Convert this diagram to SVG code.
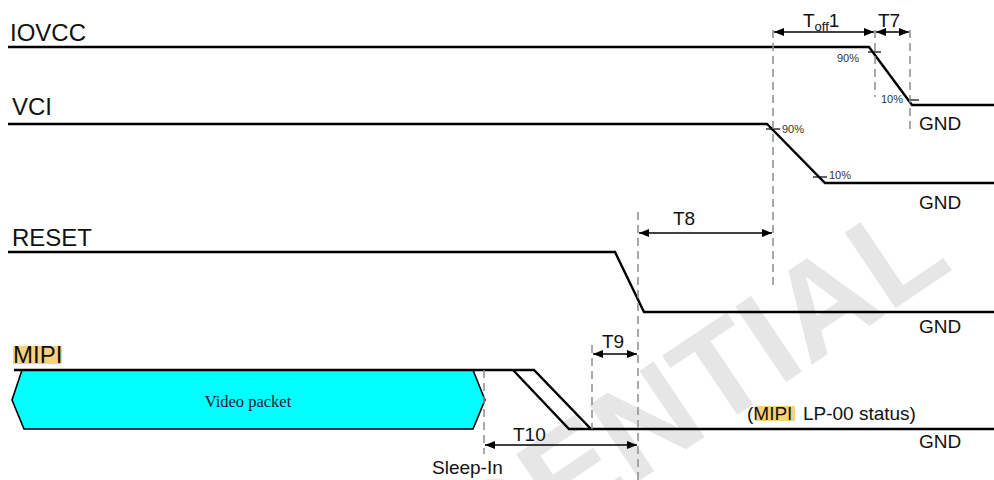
<svg xmlns="http://www.w3.org/2000/svg" width="994" height="480" viewBox="0 0 994 480">
<defs>
<style>
.sig{fill:none;stroke:#000;stroke-width:2.4;stroke-linejoin:miter}
.tick{stroke:#000;stroke-width:1.2}
.dash{stroke:#8c8c8c;stroke-width:1.5;stroke-dasharray:8 5;fill:none}
.dim{stroke:#000;stroke-width:1.4;marker-start:url(#ah);marker-end:url(#ah)}
.lbl{font-family:"Liberation Sans",Arial,sans-serif;font-size:24px;fill:#111}
.t{font-family:"Liberation Sans",Arial,sans-serif;font-size:19px;fill:#111}
.pct{font-family:"Liberation Sans",Arial,sans-serif;font-size:11px;fill:#333}
.hl{fill:#f8d27a}
.wm{font-family:"Liberation Sans",Arial,sans-serif;font-weight:bold;font-size:132px;fill:#e6e6e6}
</style>
<marker id="ah" viewBox="0 0 10 8" refX="10" refY="4" markerWidth="11" markerHeight="8" markerUnits="userSpaceOnUse" orient="auto-start-reverse">
<path d="M0,0 L10,4 L0,8 z" fill="#000"/>
</marker>
</defs>
<rect width="994" height="480" fill="#fff"/>
<text class="wm" transform="translate(955,268) rotate(-34)" text-anchor="end">CONFIDENTIAL</text>

<g id="iovcc">
<text class="lbl" x="10" y="41">IOVCC</text>
<polyline class="sig" points="8,47 869,47 912,105 994,105"/>
<line class="tick" x1="868" y1="52" x2="881" y2="52"/>
<text class="pct" x="859" y="62" text-anchor="end">90%</text>
<line class="tick" x1="907" y1="100" x2="919" y2="100"/>
<text class="pct" x="903" y="103" text-anchor="end">10%</text>
<text class="t" x="919" y="130">GND</text>
</g>

<g id="vci">
<text class="lbl" x="12" y="115">VCI</text>
<polyline class="sig" points="8,124 767,124 825,183 994,183"/>
<line class="tick" x1="766" y1="129" x2="780" y2="129"/>
<text class="pct" x="782" y="133">90%</text>
<line class="tick" x1="813" y1="177" x2="827" y2="177"/>
<text class="pct" x="829" y="179">10%</text>
<text class="t" x="919" y="209">GND</text>
</g>

<g id="reset">
<text class="lbl" x="12" y="246">RESET</text>
<polyline class="sig" points="8,252 615,252 644,312 994,312"/>
<text class="t" x="919" y="333">GND</text>
</g>

<g id="mipi">
<rect class="hl" x="13" y="346" width="49" height="18"/>
<text class="lbl" x="13" y="363">MIPI</text>
<polygon points="22,370 473,370 485,400 473,429 24,429 12,400" fill="#00ffff" stroke="#000" stroke-width="1.6"/>
<text x="248" y="407" text-anchor="middle" font-family="'Liberation Serif','Times New Roman',serif" font-size="16.5" fill="#1a1a2a">Video packet</text>
<polyline class="sig" points="14,370 534,370 591,429 994,429" stroke-width="2"/>
<polyline class="sig" points="513,370 569,429 591,429" stroke-width="2"/>
<rect class="hl" x="756" y="406" width="39" height="15"/>
<text class="t" x="747" y="420" xml:space="preserve">(MIPI  LP-00 status)</text>
<text class="t" x="919" y="448">GND</text>
<text class="t" x="432" y="474" font-size="20">Sleep-In</text>
</g>

<g id="connectors">
<line class="dash" x1="773" y1="30" x2="773" y2="290"/>
<line class="dash" x1="875" y1="30" x2="875" y2="97"/>
<line class="dash" x1="910" y1="30" x2="910" y2="130"/>
<line class="dash" x1="638" y1="212" x2="638" y2="480"/>
<line class="dash" x1="592" y1="345" x2="592" y2="429"/>
<line class="dash" x1="484" y1="370" x2="484" y2="454"/>
<line class="dim" x1="774" y1="32" x2="874" y2="32"/>
<line class="dim" x1="876" y1="32" x2="909" y2="32"/>
<line class="dim" x1="639" y1="233" x2="772" y2="233"/>
<line class="dim" x1="593" y1="354" x2="637" y2="354"/>
<line class="dim" x1="485" y1="445" x2="637" y2="445"/>
<text class="t" x="803" y="27" font-size="20">T<tspan font-size="13" dy="4">off</tspan><tspan dy="-4">1</tspan></text>
<text class="t" x="878" y="27" font-size="20">T7</text>
<text class="t" x="673" y="225">T8</text>
<text class="t" x="602" y="348">T9</text>
<text class="t" x="513" y="441">T10</text>
</g>
</svg>
